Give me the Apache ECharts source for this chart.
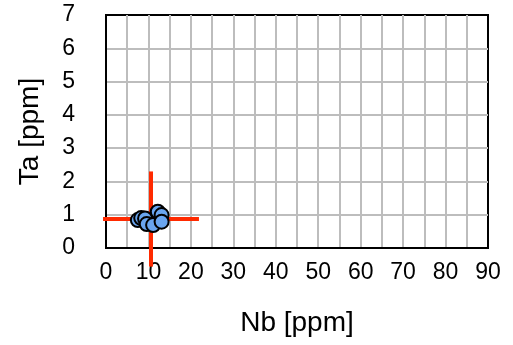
<!DOCTYPE html>
<html>
<head>
<meta charset="utf-8">
<script src="https://cdn.jsdelivr.net/npm/echarts@6/dist/echarts.min.js"></script>
<style>
  html, body { margin: 0; padding: 0; background: #fff; }
  #chart { width: 513px; height: 345px; }
</style>
</head>
<body>
<div id="chart"></div>
<script>
// sample points (Nb, Ta) in ppm
const nbValues = [7.5, 8.3, 9.2, 9.6, 11.1, 12.2, 13.1, 13.1];
const taValues = [0.84, 0.9, 0.89, 0.72, 0.69, 1.09, 0.99, 0.79];

// mean and spread shown as red cross
const meanNb = 10.6;
const meanTa = 0.87;
const errNb = 11.3;
const errTa = 1.43;

const xTicks = [0, 10, 20, 30, 40, 50, 60, 70, 80, 90];
const yTicks = [0, 1, 2, 3, 4, 5, 6, 7];

const FONT = "Liberation Sans, Arial, Helvetica, sans-serif";

const chart = echarts.init(document.getElementById("chart"));

const points = nbValues.map((v, i) => [v, taValues[i]]);

const option = {
  animation: false,
  grid: {
    left: 106,
    right: 25,
    top: 15,
    bottom: 97,
    show: true,
    borderColor: "#000",
    borderWidth: 2,
    backgroundColor: "transparent",
  },
  xAxis: {
    type: "value",
    min: xTicks[0],
    max: xTicks[xTicks.length - 1],
    interval: 5,
    name: "Nb [ppm]",
    nameLocation: "middle",
    nameGap: 61,
    nameTextStyle: { color: "#000", fontSize: 28, fontFamily: FONT },
    axisLine: { show: true, lineStyle: { color: "#000", width: 2 } },
    axisTick: { show: false },
    axisLabel: {
      color: "#000",
      fontSize: 23,
      fontFamily: FONT,
      margin: 13,
      formatter: (v) => (xTicks.includes(v) ? String(v) : ""),
      showMinLabel: true,
      showMaxLabel: true,
    },
    splitLine: {
      show: true,
      showMinLine: false,
      showMaxLine: false,
      lineStyle: { color: "#bdbdbd", width: 2 },
    },
  },
  yAxis: {
    type: "value",
    min: yTicks[0],
    max: yTicks[yTicks.length - 1],
    interval: 1,
    name: "Ta [ppm]",
    nameLocation: "middle",
    nameGap: 62,
    nameTextStyle: { color: "#000", fontSize: 28, fontFamily: FONT },
    axisLine: { show: true, lineStyle: { color: "#000", width: 2 } },
    axisTick: { show: false },
    axisLabel: {
      color: "#000",
      fontSize: 23,
      fontFamily: FONT,
      margin: 31,
    },
    splitLine: {
      show: true,
      showMinLine: false,
      showMaxLine: false,
      lineStyle: { color: "#bdbdbd", width: 2 },
    },
  },
  series: [
    {
      // error cross
      type: "custom",
      clip: false,
      z: 3,
      data: [[meanNb, meanTa, errNb, errTa]],
      renderItem: function (params, api) {
        const cx = api.value(0);
        const cy = api.value(1);
        const ex = api.value(2);
        const ey = api.value(3);
        const l = api.coord([cx - ex, cy]);
        const r = api.coord([cx + ex, cy]);
        const t = api.coord([cx, cy + ey]);
        const b = api.coord([cx, cy - ey]);
        const style = { stroke: "#ff2a00", lineWidth: 4 };
        return {
          type: "group",
          children: [
            { type: "line", shape: { x1: l[0], y1: l[1], x2: r[0], y2: r[1] }, style: style },
            { type: "line", shape: { x1: t[0], y1: t[1], x2: b[0], y2: b[1] }, style: style },
          ],
        };
      },
    },
    {
      type: "scatter",
      z: 4,
      data: points,
      symbol: "circle",
      symbolSize: 14,
      itemStyle: {
        color: "#6aa5ef",
        borderColor: "#000",
        borderWidth: 2,
        opacity: 1,
      },
    },
  ],
};

chart.setOption(option);
</script>
</body>
</html>
